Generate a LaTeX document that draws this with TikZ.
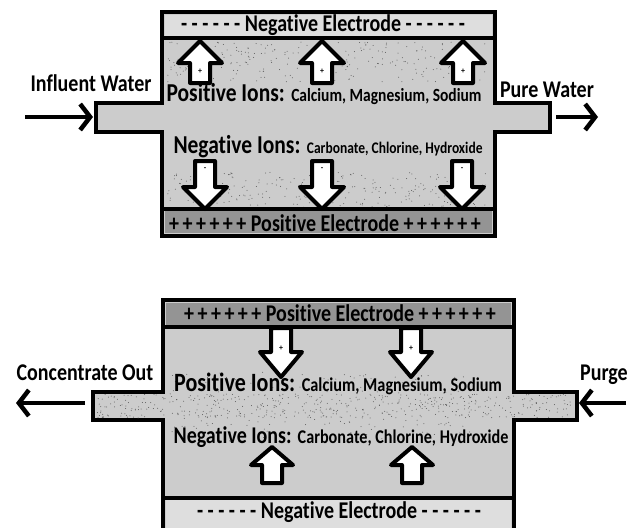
\documentclass[tikz,border=0pt]{standalone}
\usepackage{graphicx}
\usepackage{fontspec}
\setmainfont{Carlito}[Ligatures=NoCommon]
\usetikzlibrary{arrows.meta}
\definecolor{cellgray}{gray}{0.80}
\definecolor{negstrip}{gray}{0.87}
\definecolor{posstrip}{gray}{0.58}
\definecolor{speck}{gray}{0.35}
\newcommand{\tallt}[1]{\scalebox{1}[1.2]{#1}}
\newcommand{\plusrow}{+\kern3.5pt+\kern3.5pt+\kern3.5pt+\kern3.5pt+\kern3.5pt+}

\begin{document}
\begin{tikzpicture}[x=1pt,y=-1pt,
  body/.style={draw=black,line width=4.5pt,fill=cellgray,line join=miter},
  sep/.style={line width=3.5pt},
  ion/.style={draw=black,line width=4pt,fill=white,line join=round},
  sign/.style={inner sep=0pt,font=\bfseries\fontsize{8}{8}\selectfont},
  flow/.style={line width=4.5pt,-{Straight Barb[length=10pt,width=26pt]}},
  lbl/.style={inner sep=0pt,font=\bfseries\fontsize{20}{22}\selectfont}]
  \useasboundingbox (0,0) rectangle (628,527);
  \clip (0,0) rectangle (628,527);

  % upper cell
  \draw[body] (96,103) -- (162,103) -- (162,12) -- (495,12) -- (495,103) -- (550,103) -- (550,132)
    -- (495,132) -- (495,236) -- (162,236) -- (162,132) -- (96,132) -- cycle;
  \fill[negstrip] (165,15) rectangle (492,37);
  \fill[posstrip] (165,211) rectangle (492,233);
  \pgfmathsetseed{11}
  \foreach \i in {1,...,260} \fill[speck] (166+322*rnd,42+40*rnd) circle (0.5);
  \foreach \i in {1,...,260} \fill[speck] (166+322*rnd,172+36*rnd) circle (0.5);
  \draw[sep] (162,38) -- (495,38);
  \draw[sep] (162,209) -- (495,209);

  \node[lbl] (topneg) at (323,25) {\tallt{- - - - - - Negative Electrode - - - - - -}};
  \node[lbl] (toppos) at (325,223) {\tallt{\plusrow{} Positive Electrode \plusrow}};
  \node[lbl,anchor=base] (topposions) at (324,101)
    {\tallt{\fontsize{21.5}{22}\selectfont Positive Ions: \fontsize{15.5}{16}\selectfont Calcium, Magnesium, Sodium}};
  \node[lbl,anchor=base] (topnegions) at (328,153)
    {\tallt{\fontsize{21.5}{22}\selectfont Negative Ions: \fontsize{13.5}{16}\selectfont Carbonate, Chlorine, Hydroxide}};

  \foreach \x in {200,322,463} {
    \draw[ion] (\x,41) -- ++(22,22) -- ++(-12,0) -- ++(0,20) -- ++(-20,0) -- ++(0,-20) -- ++(-12,0) -- cycle;
    \node[sign] (up\x) at (\x,71) {+};
  }
  \foreach \x in {205,322,462} {
    \draw[ion] (\x,209) -- ++(-22,-22) -- ++(12,0) -- ++(0,-26) -- ++(20,0) -- ++(0,26) -- ++(12,0) -- cycle;
    \node[sign] (dn\x) at (\x,169) {-};
  }

  \node[lbl] (influent) at (91,83) {\tallt{Influent Water}};
  \node[lbl] (pure) at (547,90) {\tallt{Pure Water}};
  \coordinate (inA) at (25,117);
  \coordinate (inB) at (93,117);
  \coordinate (outA) at (556,117);
  \coordinate (outB) at (598,117);
  \draw[flow] (inA) -- (inB);
  \draw[flow] (outA) -- (outB);

  % lower cell
  \draw[body] (93,392) -- (163,392) -- (163,300) -- (514,300) -- (514,392) -- (577,392) -- (577,420)
    -- (514,420) -- (514,540) -- (163,540) -- (163,420) -- (93,420) -- cycle;
  \fill[posstrip] (166,303) rectangle (511,325);
  \fill[negstrip] (166,500) rectangle (511,540);
  \pgfmathsetseed{5}
  \foreach \i in {1,...,420} \fill[speck] (97+476*rnd,394+24*rnd) circle (0.5);
  \foreach \i in {1,...,220} \fill[speck] (170+300*rnd,372+70*rnd) circle (0.5);
  \draw[sep] (163,327) -- (514,327);
  \draw[sep] (163,498) -- (514,498);

  \node[lbl] (botpos) at (340,313) {\tallt{\plusrow{} Positive Electrode \plusrow}};
  \node[lbl] (botneg) at (339,512) {\tallt{- - - - - - Negative Electrode - - - - - -}};
  \node[lbl,anchor=base] (botposions) at (338,391)
    {\tallt{\fontsize{22}{22}\selectfont Positive Ions: \fontsize{16.3}{16}\selectfont Calcium, Magnesium, Sodium}};
  \node[lbl,anchor=base] (botnegions) at (341,443)
    {\tallt{\fontsize{20}{22}\selectfont Negative Ions: \fontsize{16.2}{16}\selectfont Carbonate, Chlorine, Hydroxide}};

  \foreach \x in {281,411} {
    \draw[ion] (\x,377) -- ++(-21,-25) -- ++(11,0) -- ++(0,-24) -- ++(20,0) -- ++(0,24) -- ++(11,0) -- cycle;
    \node[sign] (bdn\x) at (\x,348) {+};
  }
  \foreach \x in {272,412} {
    \draw[ion] (\x,447) -- ++(21,18) -- ++(-11,0) -- ++(0,18) -- ++(-20,0) -- ++(0,-18) -- ++(-11,0) -- cycle;
  }

  \node[lbl] (conc) at (85,373) {\tallt{Concentrate Out}};
  \node[lbl] (purge) at (604,375) {\tallt{Purge}};
  \coordinate (cA) at (85,403);
  \coordinate (cB) at (16,403);
  \coordinate (pA) at (626,403);
  \coordinate (pB) at (579,403);
  \draw[flow] (cA) -- (cB);
  \draw[flow] (pA) -- (pB);
\end{tikzpicture}
\end{document}
